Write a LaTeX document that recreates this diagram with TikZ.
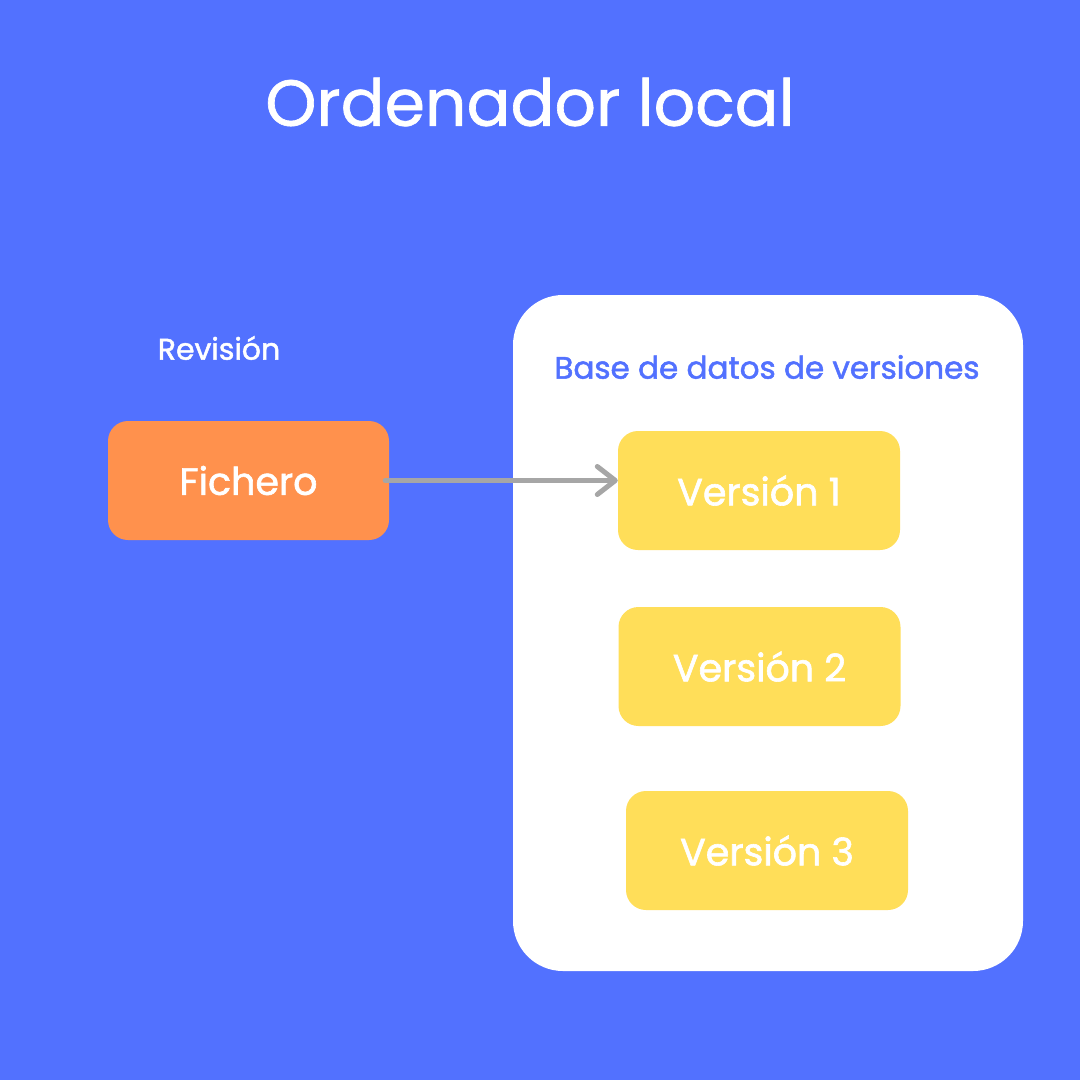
\documentclass[tikz,border=0pt]{standalone}
\usepackage{fontspec}
\setmainfont{Poppins}
\newfontfamily\medfont{Poppins}[FakeBold=1.6]
\newfontfamily\titlefont{Poppins}[FakeBold=1.0]
\usetikzlibrary{arrows.meta}
\definecolor{bgblue}{HTML}{5271FF}
\definecolor{orangebox}{HTML}{FF914D}
\definecolor{yellowbox}{HTML}{FFDE59}
\definecolor{arrowgray}{HTML}{A6A6A6}
\tikzset{
  boxbase/.style={rounded corners=20pt, minimum width=282pt, minimum height=119pt, text=white, font=\medfont\fontsize{38}{42}\selectfont, inner sep=0pt},
  verbox/.style={boxbase, fill=yellowbox},
  lbl/.style={inner sep=0pt, anchor=center}
}
\begin{document}
\begin{tikzpicture}[x=1pt,y=-1pt]
\fill[bgblue] (0,0) rectangle (1080,1080);
\useasboundingbox (0,0) rectangle (1080,1080);
\node[lbl, text=white, font=\titlefont\fontsize{65}{72}\selectfont] (title) at (530,102) {Ordenador local};
\node[lbl, text=white, font=\medfont\fontsize{30}{34}\selectfont] (rev) at (219,348) {Revisión};
\fill[white, rounded corners=50pt] (513,295) rectangle (1023,971);
\node[lbl, text=bgblue, font=\medfont\fontsize{31}{35}\selectfont] (base) at (767,367) {Base de datos de versiones};
\node[boxbase, fill=orangebox, minimum width=281pt] (fich) at (248.5,480.5) {Fichero};
\node[verbox] (v1) at (759,490.5) {Versión 1};
\node[verbox] (v2) at (759.5,666.5) {Versión 2};
\node[verbox] (v3) at (767,850.5) {Versión 3};
\draw[arrowgray, line width=5pt, line cap=round, -{Straight Barb[length=18pt,width=28pt,line width=5pt,round]}] ([xshift=-4pt]fich.east) -- (v1.west |- fich.east);
\end{tikzpicture}
\end{document}
